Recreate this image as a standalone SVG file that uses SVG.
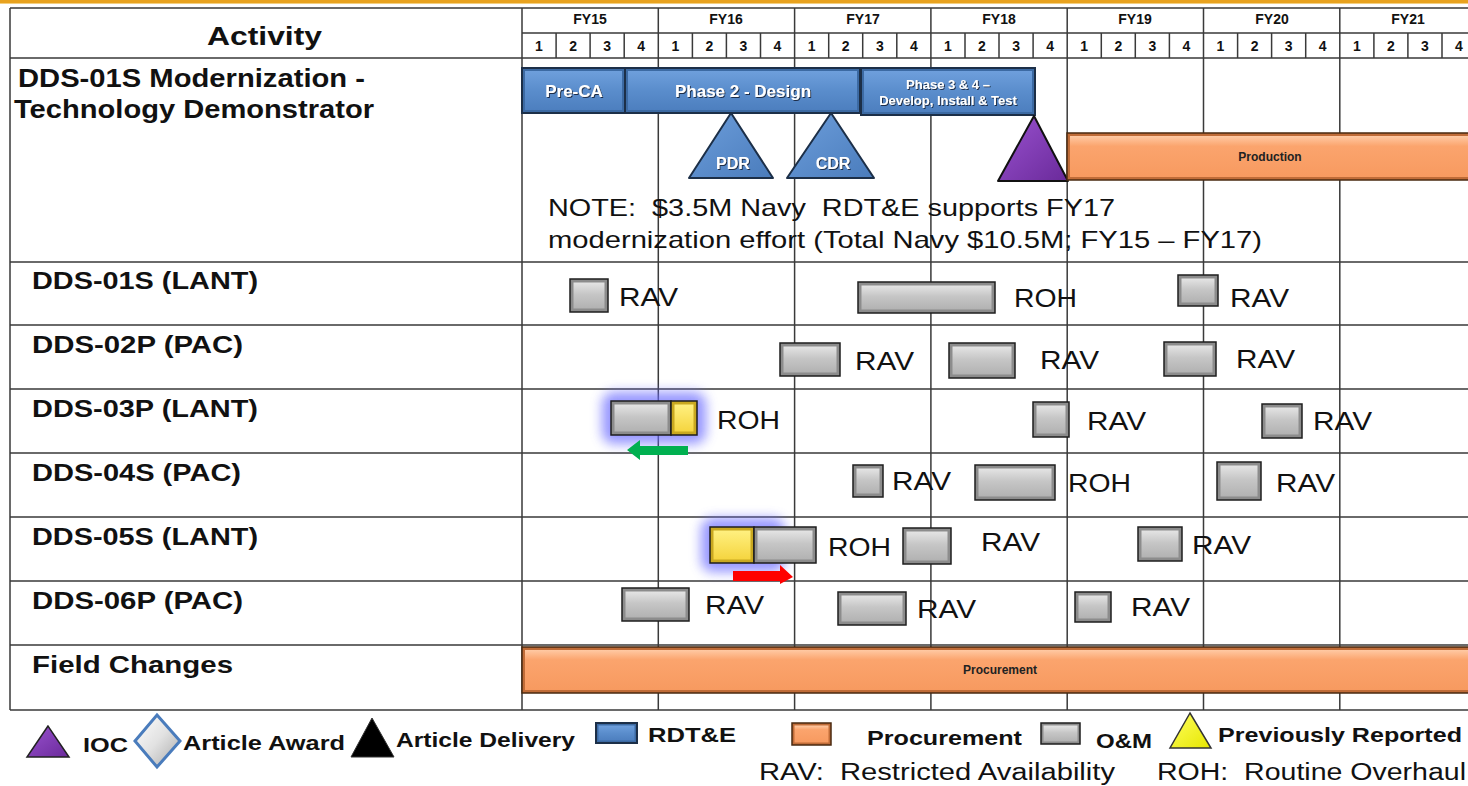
<svg xmlns="http://www.w3.org/2000/svg" width="1468" height="786" viewBox="0 0 1468 786">
<defs>
<linearGradient id="gGray" x1="0" y1="0" x2="0" y2="1"><stop offset="0" stop-color="#e4e4e4"/><stop offset="0.45" stop-color="#c6c6c6"/><stop offset="1" stop-color="#b2b2b2"/></linearGradient>
<linearGradient id="gBlue" x1="0" y1="0" x2="0" y2="1"><stop offset="0" stop-color="#6e9fdc"/><stop offset="0.5" stop-color="#5a8dcc"/><stop offset="1" stop-color="#4d7fbf"/></linearGradient>
<linearGradient id="gOrange" x1="0" y1="0" x2="0" y2="1"><stop offset="0" stop-color="#ffc9a3"/><stop offset="0.25" stop-color="#fba46d"/><stop offset="1" stop-color="#f79a60"/></linearGradient>
<linearGradient id="gYellow" x1="0" y1="0" x2="0" y2="1"><stop offset="0" stop-color="#fff080"/><stop offset="1" stop-color="#f5d540"/></linearGradient>
<linearGradient id="gPurple" x1="0" y1="0" x2="1" y2="1"><stop offset="0" stop-color="#9a52d0"/><stop offset="1" stop-color="#6a2a9a"/></linearGradient>
<linearGradient id="gTri" x1="0" y1="0" x2="1" y2="1"><stop offset="0" stop-color="#6d9edb"/><stop offset="1" stop-color="#4a7cbc"/></linearGradient>
<linearGradient id="gDia" x1="0" y1="0" x2="1" y2="1"><stop offset="0" stop-color="#ffffff"/><stop offset="0.5" stop-color="#e2e2e2"/><stop offset="1" stop-color="#a8a8a8"/></linearGradient>
<linearGradient id="gYTri" x1="0" y1="0" x2="1" y2="1"><stop offset="0" stop-color="#ffff60"/><stop offset="1" stop-color="#e6e600"/></linearGradient>
<filter id="glow" x="-50%" y="-50%" width="200%" height="200%"><feGaussianBlur stdDeviation="6"/></filter>
<filter id="tsh" x="-10%" y="-30%" width="120%" height="160%"><feDropShadow dx="1" dy="1" stdDeviation="0.6" flood-color="#14243a" flood-opacity="0.9"/></filter>
</defs>
<style>
.grid{stroke:#3a3a3a;stroke-width:1.5;fill:none}
.hd{font-family:"Liberation Sans Narrow","Liberation Sans",Arial,sans-serif;font-weight:bold;font-size:14px;fill:#111;text-anchor:middle}
.lbl{font-family:"Liberation Sans",Arial,sans-serif;font-weight:bold;font-size:24px;fill:#111}
.big{font-family:"Liberation Sans",Arial,sans-serif;font-weight:bold;font-size:26px;fill:#111}
.note{font-family:"Liberation Sans",Arial,sans-serif;font-size:24px;fill:#111;white-space:pre}
.tag{font-family:"Liberation Sans",Arial,sans-serif;font-size:25px;fill:#111}
.omo{fill:#8c8c8c;stroke:#1e1e1e;stroke-width:1.5}
.omi{fill:url(#gGray)}
.ylo{fill:#c9a820;stroke:#1e1e1e;stroke-width:1.5}
.yli{fill:url(#gYellow)}
.blo{fill:#3c6aa3;stroke:#1c2f48;stroke-width:2}
.bli{fill:url(#gBlue)}
.oro{fill:#c06c38;stroke:#4a2a10;stroke-width:1.5}
.ori{fill:url(#gOrange)}
.wt{font-family:"Liberation Sans Narrow","Liberation Sans",Arial,sans-serif;font-weight:bold;fill:#fff;text-anchor:middle;filter:url(#tsh)}
.dk{font-family:"Liberation Sans",Arial,sans-serif;font-weight:bold;font-size:12px;fill:#222;text-anchor:middle}
.leg{font-family:"Liberation Sans Narrow","Liberation Sans",Arial,sans-serif;font-weight:bold;font-size:21px;fill:#111}
.leg2{font-family:"Liberation Sans",Arial,sans-serif;font-size:23px;fill:#111;white-space:pre}
</style>
<rect x="0" y="0" width="1468" height="3" fill="#e8a21e"/>
<rect x="0" y="3" width="1468" height="1" fill="#f3cf80"/>

<g id="grid">
<path class="grid" d="M10 8H1468 M522 33H1468 M10 58H1468 M10 262H1468 M10 325H1468 M10 389H1468 M10 453H1468 M10 517H1468 M10 581H1468 M10 645H1468 M10 710H1468"/>
<path class="grid" d="M10 8V710 M522 8V710 M658.3 8V710 M794.6 8V710 M930.9 8V710 M1067.2 8V710 M1203.5 8V710 M1339.8 8V710"/>
<path class="grid" d="M556.1 33V58 M590.1 33V58 M624.2 33V58 M692.4 33V58 M726.4 33V58 M760.5 33V58 M828.7 33V58 M862.7 33V58 M896.8 33V58 M965 33V58 M999 33V58 M1033.1 33V58 M1101.3 33V58 M1135.3 33V58 M1169.4 33V58 M1237.6 33V58 M1271.6 33V58 M1305.7 33V58 M1373.9 33V58 M1407.9 33V58 M1442 33V58"/>
</g>

<g id="header">
<text class="big" x="207" y="45" textLength="115" lengthAdjust="spacingAndGlyphs">Activity</text>
<text class="hd" x="590" y="24" font-size="15">FY15</text>
<text class="hd" x="726" y="24" font-size="15">FY16</text>
<text class="hd" x="863" y="24" font-size="15">FY17</text>
<text class="hd" x="999" y="24" font-size="15">FY18</text>
<text class="hd" x="1135" y="24" font-size="15">FY19</text>
<text class="hd" x="1272" y="24" font-size="15">FY20</text>
<text class="hd" x="1408" y="24" font-size="15">FY21</text>
<g class="hd">
<text x="539" y="51">1</text><text x="573.1" y="51">2</text><text x="607.2" y="51">3</text><text x="641.2" y="51">4</text>
<text x="675.3" y="51">1</text><text x="709.4" y="51">2</text><text x="743.5" y="51">3</text><text x="777.5" y="51">4</text>
<text x="811.6" y="51">1</text><text x="845.7" y="51">2</text><text x="879.8" y="51">3</text><text x="913.8" y="51">4</text>
<text x="947.9" y="51">1</text><text x="982" y="51">2</text><text x="1016.1" y="51">3</text><text x="1050.1" y="51">4</text>
<text x="1084.2" y="51">1</text><text x="1118.3" y="51">2</text><text x="1152.4" y="51">3</text><text x="1186.4" y="51">4</text>
<text x="1220.5" y="51">1</text><text x="1254.6" y="51">2</text><text x="1288.7" y="51">3</text><text x="1322.7" y="51">4</text>
<text x="1356.8" y="51">1</text><text x="1390.9" y="51">2</text><text x="1425" y="51">3</text><text x="1459" y="51">4</text>
</g>
</g>

<g id="row-labels">
<text class="big" x="18" y="87" textLength="347" lengthAdjust="spacingAndGlyphs">DDS-01S Modernization -</text>
<text class="big" x="14" y="118" textLength="360" lengthAdjust="spacingAndGlyphs">Technology Demonstrator</text>
<text class="lbl" x="32" y="289" textLength="226" lengthAdjust="spacingAndGlyphs">DDS-01S (LANT)</text>
<text class="lbl" x="32" y="353" textLength="211" lengthAdjust="spacingAndGlyphs">DDS-02P (PAC)</text>
<text class="lbl" x="32" y="417" textLength="226" lengthAdjust="spacingAndGlyphs">DDS-03P (LANT)</text>
<text class="lbl" x="32" y="481" textLength="209" lengthAdjust="spacingAndGlyphs">DDS-04S (PAC)</text>
<text class="lbl" x="32" y="545" textLength="226" lengthAdjust="spacingAndGlyphs">DDS-05S (LANT)</text>
<text class="lbl" x="32" y="609" textLength="211" lengthAdjust="spacingAndGlyphs">DDS-06P (PAC)</text>
<text class="lbl" x="32" y="673" textLength="201" lengthAdjust="spacingAndGlyphs">Field Changes</text>
</g>

<g id="modernization">
<g id="pre-ca"><rect class="blo" x="522" y="68" width="103" height="45"/><rect class="bli" x="525" y="71" width="97" height="39"/><text class="wt" x="574" y="97" font-size="17">Pre-CA</text></g>
<g id="phase2"><rect class="blo" x="625" y="68" width="235" height="45"/><rect class="bli" x="628" y="71" width="229" height="39"/><text class="wt" x="743" y="97" font-size="17">Phase 2 - Design</text></g>
<g id="phase34"><rect class="blo" x="861" y="68" width="174" height="47"/><rect class="bli" x="864" y="71" width="168" height="41"/><text class="wt" x="948" y="89" font-size="13">Phase 3 &amp; 4 –</text><text class="wt" x="948" y="105" font-size="13">Develop, Install &amp; Test</text></g>
<g id="pdr"><polygon points="731,113 689,178 773,178" fill="url(#gTri)" stroke="#1c2f48" stroke-width="2" stroke-linejoin="round"/><text class="wt" x="733" y="169" font-size="16">PDR</text></g>
<g id="cdr"><polygon points="831,113 787,178 874,178" fill="url(#gTri)" stroke="#1c2f48" stroke-width="2" stroke-linejoin="round"/><text class="wt" x="833" y="169" font-size="16">CDR</text></g>
<g id="ioc"><polygon points="1034,116 998,181 1068,181" fill="url(#gPurple)" stroke="#111" stroke-width="2" stroke-linejoin="round"/></g>
<g id="production"><rect class="oro" x="1067" y="133" width="410" height="47"/><rect class="ori" x="1070" y="136" width="404" height="41"/><text class="dk" x="1270" y="161">Production</text></g>
<text class="note" x="548" y="216" textLength="567" lengthAdjust="spacingAndGlyphs">NOTE:  $3.5M Navy  RDT&amp;E supports FY17</text>
<text class="note" x="548" y="248" textLength="714" lengthAdjust="spacingAndGlyphs">modernization effort (Total Navy $10.5M; FY15 – FY17)</text>
</g>

<g id="glows">
<rect x="602" y="392" width="104" height="52" rx="12" fill="#6a6aff" opacity="0.7" filter="url(#glow)"/>
<rect x="701" y="518" width="84" height="54" rx="12" fill="#6a6aff" opacity="0.7" filter="url(#glow)"/>
</g>

<g id="dds-01s">
<rect class="omo" x="570" y="279" width="38" height="33"/><rect class="omi" x="573.5" y="282.5" width="31" height="26"/>
<text class="tag" x="619" y="306" textLength="59" lengthAdjust="spacingAndGlyphs">RAV</text>
<rect class="omo" x="858" y="282" width="137" height="31"/><rect class="omi" x="861.5" y="285.5" width="130" height="24"/>
<text class="tag" x="1014" y="307" textLength="63" lengthAdjust="spacingAndGlyphs">ROH</text>
<rect class="omo" x="1178" y="275" width="40" height="31"/><rect class="omi" x="1181.5" y="278.5" width="33" height="24"/>
<text class="tag" x="1230" y="307" textLength="59" lengthAdjust="spacingAndGlyphs">RAV</text>
</g>

<g id="dds-02p">
<rect class="omo" x="780" y="343" width="60" height="33"/><rect class="omi" x="783.5" y="346.5" width="53" height="26"/>
<text class="tag" x="855" y="370" textLength="59" lengthAdjust="spacingAndGlyphs">RAV</text>
<rect class="omo" x="949" y="343" width="66" height="35"/><rect class="omi" x="952.5" y="346.5" width="59" height="28"/>
<text class="tag" x="1040" y="369" textLength="59" lengthAdjust="spacingAndGlyphs">RAV</text>
<rect class="omo" x="1164" y="342" width="52" height="34"/><rect class="omi" x="1167.5" y="345.5" width="45" height="27"/>
<text class="tag" x="1236" y="368" textLength="59" lengthAdjust="spacingAndGlyphs">RAV</text>
</g>

<g id="dds-03p">
<rect class="omo" x="611" y="401" width="60" height="34"/><rect class="omi" x="614.5" y="404.5" width="53" height="27"/>
<rect class="ylo" x="671" y="401" width="26" height="34"/><rect class="yli" x="674.5" y="404.5" width="19" height="27"/>
<text class="tag" x="717" y="429" textLength="63" lengthAdjust="spacingAndGlyphs">ROH</text>
<rect class="omo" x="1033" y="402" width="36" height="35"/><rect class="omi" x="1036.5" y="405.5" width="29" height="28"/>
<text class="tag" x="1087" y="430" textLength="59" lengthAdjust="spacingAndGlyphs">RAV</text>
<rect class="omo" x="1262" y="404" width="40" height="34"/><rect class="omi" x="1265.5" y="407.5" width="33" height="27"/>
<text class="tag" x="1313" y="430" textLength="59" lengthAdjust="spacingAndGlyphs">RAV</text>
</g>

<g id="dds-04s">
<rect class="omo" x="853" y="465" width="30" height="32"/><rect class="omi" x="856.5" y="468.5" width="23" height="25"/>
<text class="tag" x="892" y="490" textLength="59" lengthAdjust="spacingAndGlyphs">RAV</text>
<rect class="omo" x="975" y="465" width="80" height="35"/><rect class="omi" x="978.5" y="468.5" width="73" height="28"/>
<text class="tag" x="1068" y="492" textLength="63" lengthAdjust="spacingAndGlyphs">ROH</text>
<rect class="omo" x="1217" y="462" width="44" height="38"/><rect class="omi" x="1220.5" y="465.5" width="37" height="31"/>
<text class="tag" x="1276" y="492" textLength="59" lengthAdjust="spacingAndGlyphs">RAV</text>
</g>

<g id="dds-05s">
<rect class="ylo" x="710" y="527" width="44" height="36"/><rect class="yli" x="713.5" y="530.5" width="37" height="29"/>
<rect class="omo" x="754" y="527" width="62" height="36"/><rect class="omi" x="757.5" y="530.5" width="55" height="29"/>
<text class="tag" x="828" y="556" textLength="63" lengthAdjust="spacingAndGlyphs">ROH</text>
<rect class="omo" x="903" y="528" width="48" height="36"/><rect class="omi" x="906.5" y="531.5" width="41" height="29"/>
<text class="tag" x="981" y="551" textLength="59" lengthAdjust="spacingAndGlyphs">RAV</text>
<rect class="omo" x="1138" y="527" width="44" height="34"/><rect class="omi" x="1141.5" y="530.5" width="37" height="27"/>
<text class="tag" x="1192" y="554" textLength="59" lengthAdjust="spacingAndGlyphs">RAV</text>
</g>

<g id="dds-06p">
<rect class="omo" x="622" y="588" width="67" height="33"/><rect class="omi" x="625.5" y="591.5" width="60" height="26"/>
<text class="tag" x="705" y="614" textLength="59" lengthAdjust="spacingAndGlyphs">RAV</text>
<rect class="omo" x="838" y="592" width="68" height="33"/><rect class="omi" x="841.5" y="595.5" width="61" height="26"/>
<text class="tag" x="917" y="618" textLength="59" lengthAdjust="spacingAndGlyphs">RAV</text>
<rect class="omo" x="1075" y="592" width="36" height="30"/><rect class="omi" x="1078.5" y="595.5" width="29" height="23"/>
<text class="tag" x="1131" y="616" textLength="59" lengthAdjust="spacingAndGlyphs">RAV</text>
</g>

<g id="field-changes">
<rect class="oro" x="522" y="647" width="960" height="46"/><rect class="ori" x="525" y="650" width="954" height="40"/>
<text class="dk" x="1000" y="674">Procurement</text>
</g>

<g id="connectors">
<polygon points="688,446 640,446 640,440 627,450 640,460 640,455 688,455" fill="#00b050"/>
<polygon points="733,571 780,571 780,565 793,577 780,584 780,581 733,581" fill="#ff0000"/>
</g>

<g id="legend">
<polygon points="48,726 27,757 69,757" fill="url(#gPurple)" stroke="#222" stroke-width="1.5"/>
<text class="leg" x="83" y="752" textLength="45" lengthAdjust="spacingAndGlyphs">IOC</text>
<polygon points="157,715 180,741 157,767 135,741" fill="url(#gDia)" stroke="#4a7cbc" stroke-width="3"/>
<text class="leg" x="183" y="750" textLength="162" lengthAdjust="spacingAndGlyphs">Article Award</text>
<polygon points="372,718 351,757 394,757" fill="#000" stroke="#333" stroke-width="1"/>
<text class="leg" x="396" y="747" textLength="179" lengthAdjust="spacingAndGlyphs">Article Delivery</text>
<rect class="blo" x="596" y="723" width="41" height="20" stroke-width="1.5"/><rect class="bli" x="598.5" y="725.5" width="36" height="15"/>
<text class="leg" x="648" y="742" textLength="88" lengthAdjust="spacingAndGlyphs">RDT&amp;E</text>
<rect class="oro" x="792" y="723" width="39" height="22"/><rect class="ori" x="794.5" y="725.5" width="34" height="17"/>
<text class="leg" x="867" y="745" textLength="155" lengthAdjust="spacingAndGlyphs">Procurement</text>
<rect class="omo" x="1041" y="723" width="39" height="21"/><rect class="omi" x="1043.5" y="725.5" width="34" height="16"/>
<text class="leg" x="1096" y="748" textLength="56" lengthAdjust="spacingAndGlyphs">O&amp;M</text>
<polygon points="1190,713 1170,748 1211,748" fill="url(#gYTri)" stroke="#333" stroke-width="1.5"/>
<text class="leg" x="1218" y="742" textLength="244" lengthAdjust="spacingAndGlyphs">Previously Reported</text>
<text class="leg2" x="759" y="780" textLength="356" lengthAdjust="spacingAndGlyphs">RAV:  Restricted Availability</text>
<text class="leg2" x="1157" y="780" textLength="309" lengthAdjust="spacingAndGlyphs">ROH:  Routine Overhaul</text>
</g>
</svg>
